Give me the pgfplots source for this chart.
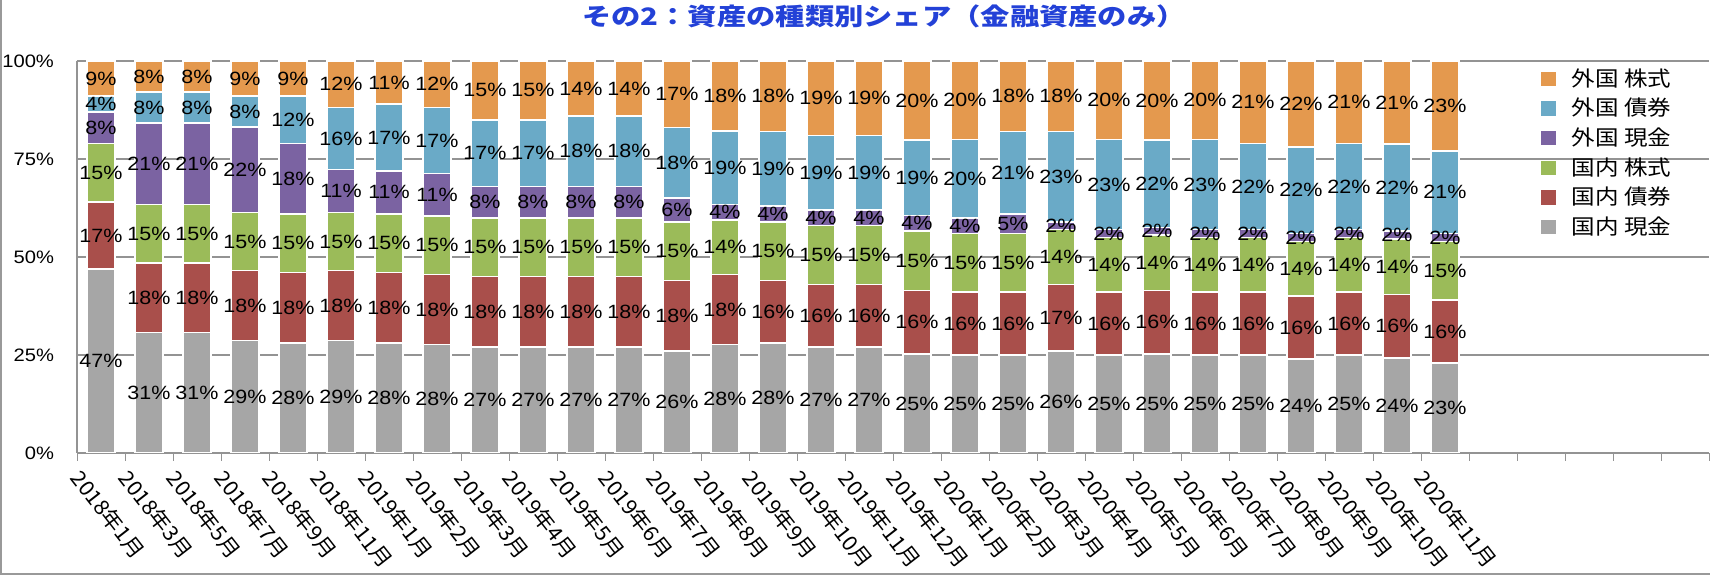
\documentclass[border=0pt]{standalone}
\usepackage{fontspec}
\usepackage{pgfplots}
\usepackage{pgfplotstable}
\pgfplotsset{compat=1.18}
\setmainfont{Liberation Sans}[FakeStretch=1.12]
\newfontfamily\jp{Noto Sans CJK JP}[FakeStretch=1.12]
\newfontfamily\jpx{Noto Sans CJK JP}[FakeStretch=1.04]
\newfontfamily\jpt{Noto Sans CJK JP}[FakeStretch=1.22]
\definecolor{cGray}{HTML}{A6A6A6}
\definecolor{cRed}{HTML}{A94F4B}
\definecolor{cGreen}{HTML}{9BBB59}
\definecolor{cPurple}{HTML}{7B63A2}
\definecolor{cBlue}{HTML}{6AAAC7}
\definecolor{cOrange}{HTML}{E4994E}
\definecolor{titleblue}{RGB}{35,65,215}
% columns: a 国内現金, b 国内債券, c 国内株式, d 外国現金, e 外国債券, f 外国株式
\pgfplotstableread{
x a b c d e f
0 47 17 15 8 4 9
1 30.69 17.82 14.85 20.79 7.92 7.92
2 30.69 17.82 14.85 20.79 7.92 7.92
3 28.71 17.82 14.85 21.78 7.92 8.91
4 28 18 15 18 12 9
5 28.71 17.82 14.85 10.89 15.84 11.88
6 28 18 15 11 17 11
7 27.72 17.82 14.85 10.89 16.83 11.88
8 27 18 15 8 17 15
9 27 18 15 8 17 15
10 27 18 15 8 18 14
11 27 18 15 8 18 14
12 26 18 15 6 18 17
13 27.72 17.82 13.86 3.96 18.81 17.82
14 28 16 15 4 19 18
15 27 16 15 4 19 19
16 27 16 15 4 19 19
17 25.25 16.16 15.15 4.04 19.19 20.20
18 25 16 15 4 20 20
19 25 16 15 5 21 18
20 26 17 14 2 23 18
21 25 16 14 2 23 20
22 25.25 16.16 14.14 2.02 22.22 20.20
23 25 16 14 2 23 20
24 25 16 14 2 22 21
25 24 16 14 2 22 22
26 25 16 14 2 22 21
27 24.24 16.16 14.14 2.02 22.22 21.21
28 23 16 15 2 21 23
}\data
\begin{document}
\begin{tikzpicture}
\begin{axis}[
  at={(38.5pt,61.5pt)}, anchor=south west,
  scale only axis, width=816pt, height=196pt,
  ybar stacked, bar width=0.58,
  xmin=-0.5, xmax=33.5, ymin=0, ymax=100,
  axis lines*=left,
  axis line style={draw=gray!85, line width=0.7pt},
  ytick={0,25,50,75,100},
  yticklabels={0\%,25\%,50\%,75\%,100\%},
  ytick style={draw=none},
  yticklabel style={font=\fontsize{9}{10}\selectfont, xshift=-8pt},
  ymajorgrids, grid style={gray!85, line width=0.7pt},
  xtick={0,...,28},
  xticklabels={2018年1月,2018年3月,2018年5月,2018年7月,2018年9月,2018年11月,2019年1月,2019年2月,2019年3月,2019年4月,2019年5月,2019年6月,2019年7月,2019年8月,2019年9月,2019年10月,2019年11月,2019年12月,2020年1月,2020年2月,2020年3月,2020年4月,2020年5月,2020年6月,2020年7月,2020年8月,2020年9月,2020年10月,2020年11月},
  xtick style={draw=none},
  xticklabel style={font=\jpx\fontsize{10.5}{12}\selectfont, inner sep=0pt, xshift=-8.5pt, yshift=-7pt, rotate=-52, anchor=north west},
  extra x ticks={-0.5,0.5,...,33.5},
  extra x tick labels={},
  extra x tick style={xtick style={draw=gray!85}, tick align=outside, major tick length=4pt},
  /pgf/number format/assume math mode=true,
  nodes near coords={\pgfmathprintnumber[fixed,precision=0,assume math mode=true]{\pgfplotspointmeta}\%},
  every node near coord/.append style={
     font=\fontsize{9.6}{11}\selectfont, text=black, inner sep=0pt, anchor=center},
  legend style={at={(rel axis cs:0.897,0.987)}, anchor=north west, draw=none, fill=none, inner sep=0pt,
     font=\jp\fontsize{10.5}{12}\selectfont, row sep=2.5pt, nodes={inner sep=1pt},
     /tikz/every odd column/.append style={column sep=7pt}},
  legend cell align=left,
  reverse legend,
  legend image code/.code={\fill[#1,draw=none] (0pt,-3.6pt) rectangle (7.3pt,3.6pt);},
]
\addplot[fill=cGray, draw=white, line width=0.8pt] table[x=x,y=a]{\data};
\addlegendentry{国内 現金}
\addplot[fill=cRed, draw=white, line width=0.8pt] table[x=x,y=b]{\data};
\addlegendentry{国内 債券}
\addplot[fill=cGreen, draw=white, line width=0.8pt] table[x=x,y=c]{\data};
\addlegendentry{国内 株式}
\addplot[fill=cPurple, draw=white, line width=0.8pt] table[x=x,y=d]{\data};
\addlegendentry{外国 現金}
\addplot[fill=cBlue, draw=white, line width=0.8pt] table[x=x,y=e]{\data};
\addlegendentry{外国 債券}
\addplot[fill=cOrange, draw=white, line width=0.8pt] table[x=x,y=f]{\data};
\addlegendentry{外国 株式}
\end{axis}
\node[font=\jpt\bfseries\fontsize{12}{14}\selectfont, text=titleblue] at (442pt,280pt) {その2：資産の種類別シェア（金融資産のみ）};
\draw[gray!80, line width=0.8pt] (0.5pt,288pt) -- (0.5pt,1pt) -- (855pt,1pt);
\pgfresetboundingbox
\path[use as bounding box] (0,0) rectangle (855pt,288pt);
\end{tikzpicture}
\end{document}
